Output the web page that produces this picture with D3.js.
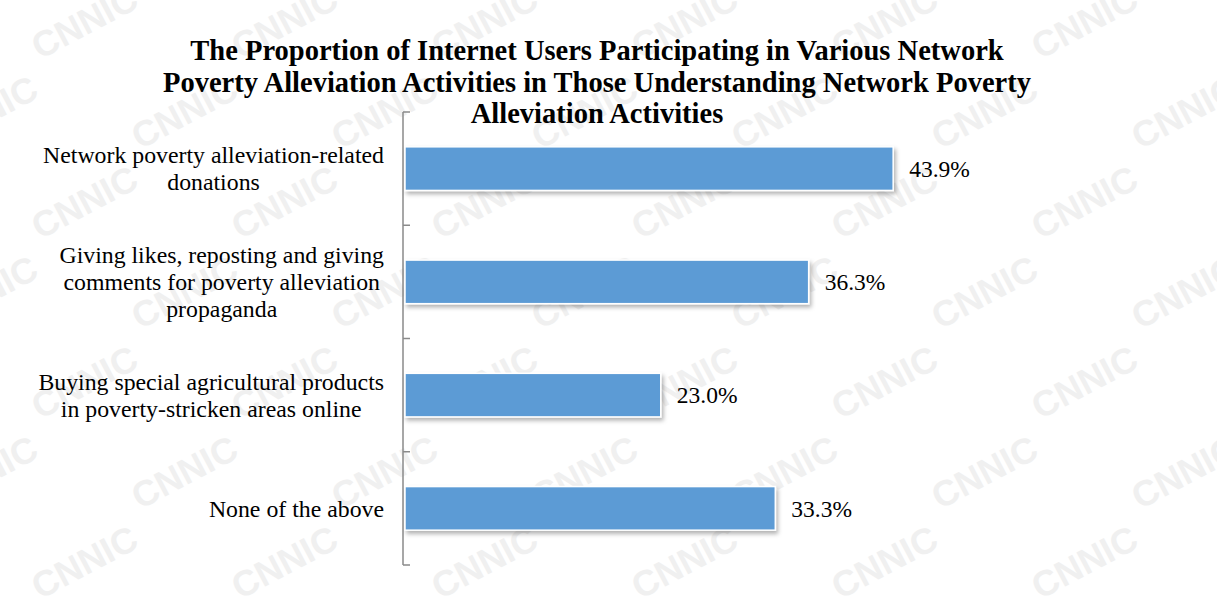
<!DOCTYPE html>
<html>
<head>
<meta charset="utf-8">
<script src="https://cdn.jsdelivr.net/npm/d3@7"></script>
<style>
  html, body { margin: 0; padding: 0; background: #ffffff; }
  svg { display: block; }
</style>
</head>
<body>
<svg id="chart" width="1217" height="596"></svg>
<script>
// Activities (each category label split into its display lines)
const categories = [
  ["Network poverty alleviation-related", "donations"],
  ["Giving likes, reposting and giving", "comments for poverty alleviation", "propaganda"],
  ["Buying special agricultural products", "in poverty-stricken areas online"],
  ["None of the above"]
];
const values = [43.9, 36.3, 23.0, 33.3];
const valueLabels = ["43.9%", "36.3%", "23.0%", "33.3%"];
const titleLines = [
  "The Proportion of Internet Users Participating in Various Network",
  "Poverty Alleviation Activities in Those Understanding Network Poverty",
  "Alleviation Activities"
];

const W = 1217, H = 596;
const svg = d3.select("#chart");
const serif = "'Liberation Serif', 'Times New Roman', serif";

// Faint watermark pattern in the background
const wm = svg.append("g").attr("fill", "#f0f0f0")
  .style("font-family", "'Liberation Sans', Arial, sans-serif")
  .style("font-weight", "bold").style("font-size", "36px");
for (let r = 0; r < 8; r++) {
  for (let c = -1; c < 7; c++) {
    const x = c * 200 + (r % 2 ? 100 : 0) + 40;
    const y = r * 90 + 60;
    wm.append("text").attr("x", x).attr("y", y)
      .attr("transform", `rotate(-28 ${x} ${y})`)
      .text("CNNIC");
  }
}

// Drop shadow for the bars
const defs = svg.append("defs");
const f = defs.append("filter").attr("id", "shadow")
  .attr("x", "-5%").attr("y", "-20%").attr("width", "115%").attr("height", "160%");
f.append("feDropShadow").attr("dx", 2).attr("dy", 3).attr("stdDeviation", 2.2)
  .attr("flood-color", "#000").attr("flood-opacity", 0.3);

// Layout
const axisX = 403;
const plotTop = 112, plotBottom = 565;

const x = d3.scaleLinear().domain([0, 50]).range([axisX + 2, axisX + 2 + 50 * 11.12]);
const y = d3.scaleBand().domain(d3.range(categories.length))
  .range([plotTop, plotBottom]).paddingInner(0.615).paddingOuter(0.3075);

// Title
const title = svg.append("text")
  .attr("text-anchor", "middle")
  .style("font-family", serif).style("font-weight", "bold").style("font-size", "28.5px")
  .attr("fill", "#000");
titleLines.forEach((t, i) => {
  title.append("tspan").attr("x", 597).attr("y", 60 + i * 31.5).text(t);
});

// Category axis: grey line with inner tick marks at band boundaries
const yAxis = d3.axisRight(y).tickSize(0).tickFormat("");
const axisG = svg.append("g").attr("transform", `translate(${axisX},0)`).call(yAxis);
axisG.select(".domain").remove();
axisG.append("line").attr("x1", 0).attr("x2", 0)
  .attr("y1", plotTop).attr("y2", plotBottom)
  .attr("stroke", "#8a8a8a").attr("stroke-width", 1.5);
const step = y.step();
const boundaries = d3.range(categories.length + 1).map(i => plotTop + i * step);
axisG.selectAll("line.tick-mark").data(boundaries).join("line")
  .attr("class", "tick-mark")
  .attr("x1", 0).attr("x2", 7)
  .attr("y1", d => d).attr("y2", d => d)
  .attr("stroke", "#8a8a8a").attr("stroke-width", 1.5);

// Bars
svg.append("g").selectAll("rect").data(values).join("rect")
  .attr("x", x(0))
  .attr("y", (d, i) => y(i))
  .attr("width", d => x(d) - x(0))
  .attr("height", y.bandwidth())
  .attr("fill", "#5b9bd5")
  .attr("stroke", "#ffffff").attr("stroke-width", 1.5)
  .attr("filter", "url(#shadow)");

// Value labels
svg.append("g").selectAll("text").data(values).join("text")
  .attr("x", d => x(d) + 16)
  .attr("y", (d, i) => y(i) + y.bandwidth() / 2)
  .attr("dy", "0.35em")
  .style("font-family", serif).style("font-size", "23.5px")
  .attr("fill", "#000")
  .text((d, i) => valueLabels[i]);

// Category labels: lines centred on each other, block right-aligned to the axis
const labelRight = 384;
const lineH = 27;
const labG = svg.append("g")
  .style("font-family", serif).style("font-size", "23.8px").attr("fill", "#000");
categories.forEach((lines, i) => {
  const cy = y(i) + y.bandwidth() / 2;
  const g = labG.append("g");
  const texts = lines.map((t, j) => g.append("text")
    .attr("text-anchor", "middle")
    .attr("y", cy + (j - (lines.length - 1) / 2) * lineH)
    .attr("dy", "0.35em")
    .text(t));
  const widths = texts.map(t => t.node().getComputedTextLength());
  const maxW = d3.max(widths);
  texts.forEach(t => t.attr("x", labelRight - maxW / 2));
});
</script>
</body>
</html>
